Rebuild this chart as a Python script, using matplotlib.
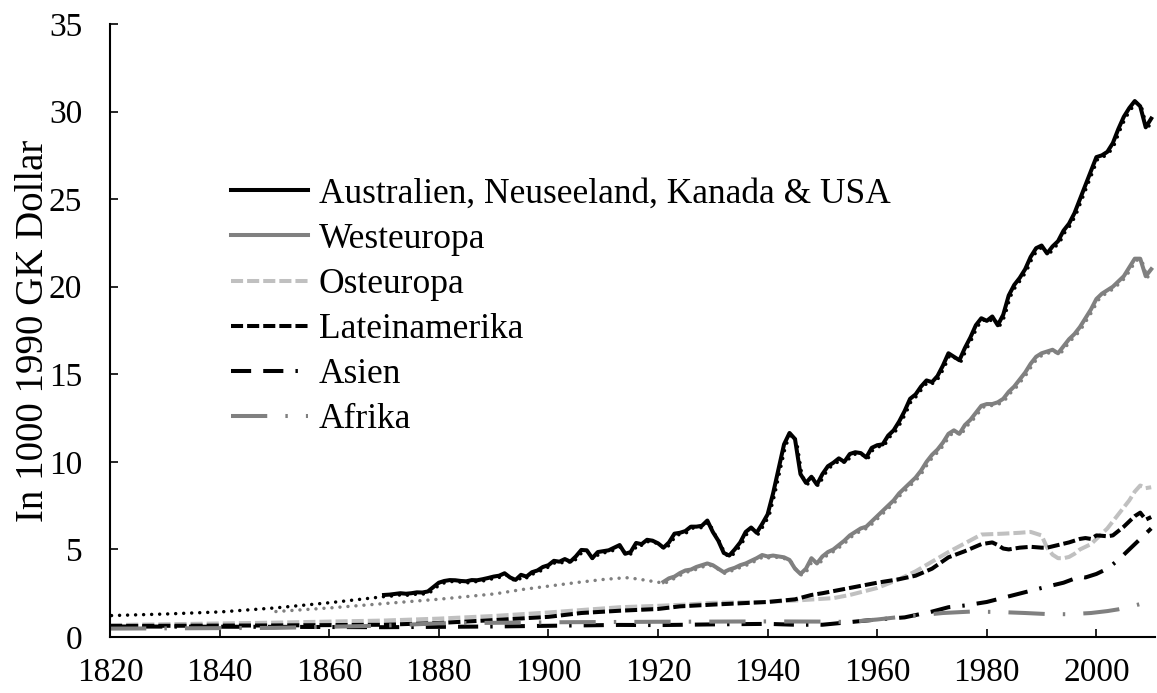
#!/usr/bin/env python
"""
GDP per capita by world region, 1820-2010 (1990 GK dollars)
"""

import matplotlib.pyplot as plt
from matplotlib.transforms import offset_copy

# Australien, Neuseeland, Kanada & USA: dotted estimate before 1870, annual data after
wo_early_years = [1820, 1830, 1840, 1850, 1860, 1870]
wo_early = [1.31, 1.40, 1.52, 1.75, 2.05, 2.40]
wo_years = list(range(1870, 2011))
wo = [
    2.40, 2.42, 2.46, 2.50, 2.47, 2.50, 2.55, 2.54, 2.60, 2.85,
    3.10, 3.20, 3.25, 3.24, 3.20, 3.18, 3.25, 3.24, 3.30, 3.37,
    3.45, 3.50, 3.64, 3.40, 3.26, 3.55, 3.45, 3.70, 3.80, 4.00,
    4.10, 4.35, 4.30, 4.45, 4.30, 4.60, 4.97, 4.95, 4.50, 4.85,
    4.90, 4.95, 5.10, 5.25, 4.75, 4.85, 5.37, 5.30, 5.55, 5.50,
    5.35, 5.10, 5.40, 5.90, 5.95, 6.05, 6.30, 6.30, 6.35, 6.65,
    6.00, 5.50, 4.80, 4.65, 5.00, 5.40, 6.00, 6.25, 5.95, 6.45,
    7.00, 8.20, 9.60, 11.00, 11.65, 11.30, 9.30, 8.80, 9.15, 8.70,
    9.30, 9.75, 9.95, 10.20, 10.00, 10.45, 10.55, 10.50, 10.25, 10.80,
    10.95, 11.00, 11.50, 11.80, 12.30, 12.90, 13.60, 13.85, 14.30, 14.65,
    14.55, 14.90, 15.50, 16.20, 16.00, 15.80, 16.50, 17.10, 17.80, 18.20,
    18.05, 18.30, 17.80, 18.40, 19.50, 20.10, 20.50, 21.00, 21.70, 22.20,
    22.35, 21.90, 22.30, 22.60, 23.20, 23.60, 24.20, 25.00, 25.80, 26.60,
    27.40, 27.50, 27.70, 28.20, 29.00, 29.70, 30.20, 30.60, 30.30, 29.10,
    29.60,
]

# Westeuropa: dotted estimate 1850-1920, annual data after
we_early_years = [1850, 1860, 1870, 1880, 1890, 1895, 1900, 1905, 1910, 1913, 1914, 1916, 1918, 1921]
we_early = [1.54, 1.75, 2.00, 2.25, 2.55, 2.80, 3.00, 3.20, 3.38, 3.45, 3.47, 3.40, 3.30, 3.15]
we_years = list(range(1921, 2011))
we = [
    3.15, 3.35, 3.45, 3.65, 3.80, 3.85, 4.00, 4.10, 4.20,
    4.10, 3.90, 3.70, 3.85, 3.95, 4.10, 4.20, 4.35, 4.50, 4.68,
    4.60, 4.65, 4.60, 4.55, 4.40, 3.90, 3.60, 3.90, 4.50, 4.20,
    4.60, 4.85, 5.00, 5.25, 5.50, 5.80, 6.00, 6.20, 6.30, 6.60,
    6.90, 7.20, 7.50, 7.80, 8.20, 8.50, 8.80, 9.10, 9.50, 10.00,
    10.40, 10.70, 11.10, 11.60, 11.80, 11.60, 12.10, 12.40, 12.80, 13.20,
    13.30, 13.30, 13.40, 13.60, 14.00, 14.30, 14.70, 15.10, 15.60, 16.00,
    16.20, 16.30, 16.40, 16.20, 16.60, 17.00, 17.30, 17.70, 18.20, 18.70,
    19.30, 19.60, 19.80, 20.00, 20.30, 20.60, 21.10, 21.60, 21.60, 20.60,
    21.00,
]

oe_years = [1820, 1850, 1870, 1880, 1890, 1900, 1906, 1913, 1920, 1925, 1930, 1940,
            1946, 1952, 1955, 1960, 1964, 1967, 1970, 1973, 1976, 1979, 1983, 1986,
            1988, 1990, 1991, 1992, 1993, 1994, 1995, 1996, 1997, 1998, 1999, 2000,
            2001, 2002, 2003, 2004, 2005, 2006, 2007, 2008, 2009, 2010]
oe = [0.68, 0.82, 0.94, 1.05, 1.20, 1.40, 1.54, 1.70, 1.78, 1.85, 1.95, 2.00,
      2.10, 2.22, 2.40, 2.80, 3.30, 3.75, 4.30, 4.85, 5.35, 5.85, 5.90, 5.95,
      6.00, 5.80, 5.10, 4.70, 4.50, 4.50, 4.57, 4.75, 5.00, 5.15, 5.30, 5.60,
      5.90, 6.20, 6.60, 7.00, 7.40, 7.80, 8.30, 8.65, 8.50, 8.55]

la_years = [1820, 1850, 1870, 1880, 1889, 1900, 1906, 1913, 1920, 1924, 1930, 1940,
            1945, 1948, 1950, 1955, 1960, 1964, 1967, 1970, 1973, 1976, 1979, 1981,
            1982, 1983, 1984, 1986, 1988, 1990, 1991, 1993, 1995, 1997, 1998, 1999,
            2000, 2001, 2002, 2003, 2004, 2005, 2006, 2007, 2008, 2009, 2010]
la = [0.63, 0.66, 0.70, 0.80, 0.95, 1.15, 1.37, 1.50, 1.60, 1.75, 1.85, 2.00,
      2.15, 2.40, 2.50, 2.80, 3.10, 3.30, 3.50, 3.90, 4.55, 4.90, 5.30, 5.40,
      5.25, 5.05, 5.00, 5.10, 5.15, 5.10, 5.10, 5.25, 5.40, 5.60, 5.65, 5.60,
      5.80, 5.78, 5.75, 5.80, 6.05, 6.30, 6.60, 6.90, 7.10, 6.70, 6.85]

as_years = [1820, 1850, 1870, 1890, 1900, 1913, 1920, 1930, 1940, 1945, 1950, 1955,
            1960, 1965, 1970, 1973, 1976, 1980, 1985, 1990, 1994, 1997, 1998, 2000,
            2002, 2004, 2006, 2008, 2010]
asia = [0.60, 0.58, 0.56, 0.60, 0.64, 0.69, 0.68, 0.72, 0.75, 0.70, 0.70, 0.85,
        1.00, 1.12, 1.45, 1.70, 1.80, 2.00, 2.40, 2.80, 3.10, 3.45, 3.40, 3.60,
        3.90, 4.40, 5.00, 5.60, 6.20]

af_years = [1820, 1850, 1870, 1880, 1900, 1920, 1940, 1950, 1955, 1960, 1964, 1968,
            1972, 1977, 1982, 1987, 1991, 1995, 1999, 2002, 2004, 2006, 2008, 2010]
af = [0.48, 0.52, 0.65, 0.78, 0.84, 0.87, 0.89, 0.88, 0.86, 1.00, 1.14, 1.25,
      1.37, 1.45, 1.43, 1.37, 1.31, 1.30, 1.37, 1.48, 1.58, 1.72, 1.88, 1.98]

labels = ["Australien, Neuseeland, Kanada & USA", "Westeuropa", "Osteuropa",
          "Lateinamerika", "Asien", "Afrika"]


def main():
    """
    Driver code
    """
    plt.rcParams["font.family"] = ["Liberation Serif", "DejaVu Serif"]
    plt.rcParams["font.size"] = 24

    fig = plt.figure(figsize=(11.57, 6.93), dpi=100)
    ax = fig.add_axes([0.0951, 0.0808, 0.9032, 0.8846])

    # dotted estimate series, drawn slightly shifted beneath the data lines
    shifted = offset_copy(ax.transData, fig=fig, x=1.5, y=-1.5, units="dots")
    dot = dict(lw=2.5, ls=(0, (0.01, 2.3)), dash_capstyle="round", transform=shifted)
    ax.plot(wo_early_years + wo_years[1:], wo_early + wo[1:], color="black", **dot)
    ax.plot(we_early_years + we_years[1:], we_early + we[1:], color="#808080", **dot)

    lw = 2.9
    ax.plot(wo_years, wo, color="black", lw=lw, label=labels[0])
    ax.plot(we_years, we, color="#808080", lw=lw, label=labels[1])
    ax.plot(oe_years, oe, color="#c0c0c0", lw=lw, ls=(0, (3.0, 1.0)), label=labels[2])
    ax.plot(la_years, la, color="black", lw=lw, ls=(0, (3.0, 1.0)), label=labels[3])
    ax.plot(as_years, asia, color="black", lw=lw,
            ls=(0, (5.0, 3.0, 5.0, 3.0, 0.6, 3.0)), label=labels[4])
    ax.plot(af_years, af, color="#808080", lw=lw,
            ls=(0, (9, 4.5, 0.6, 4.5)), label=labels[5])

    ax.set_xlim(1820, 2010.7)
    ax.set_ylim(0, 35)
    ax.set_xticks(range(1820, 2001, 20))
    ax.set_yticks(range(0, 36, 5))
    ax.tick_params(direction="in", length=6, width=1.2)
    ax.tick_params(axis="y", pad=20)
    ax.tick_params(axis="x", pad=15)
    for side in ("top", "right"):
        ax.spines[side].set_visible(False)
    for side in ("left", "bottom"):
        ax.spines[side].set_linewidth(1.5)

    ax.set_ylabel("In 1000 1990 GK Dollar", fontsize=28)
    ax.yaxis.set_label_coords(-0.056, 0.5)

    ax.legend(
        loc="upper left",
        bbox_to_anchor=(0.1158, 0.749),
        frameon=False,
        fontsize=25.5,
        borderpad=0,
        borderaxespad=0,
        handlelength=2.17,
        handletextpad=0.31,
        labelspacing=0.34,
    )

    fig.savefig("out.png", dpi=100)


if __name__ == "__main__":
    main()
